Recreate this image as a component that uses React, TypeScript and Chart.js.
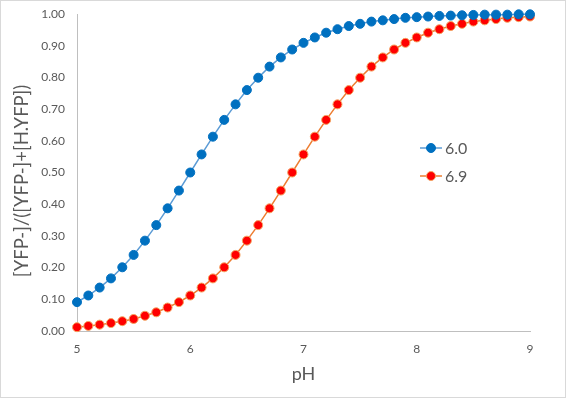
import React, { useEffect, useRef } from "react";
import { Chart, registerables } from "chart.js";

Chart.register(...registerables);

const pH = [5.0, 5.1, 5.2, 5.3, 5.4, 5.5, 5.6, 5.7, 5.8, 5.9, 6.0, 6.1, 6.2, 6.3, 6.4, 6.5, 6.6, 6.7, 6.8, 6.9, 7.0, 7.1, 7.2, 7.3, 7.4, 7.5, 7.6, 7.7, 7.8, 7.9, 8.0, 8.1, 8.2, 8.3, 8.4, 8.5, 8.6, 8.7, 8.8, 8.9, 9.0];

const series60 = [0.091, 0.112, 0.137, 0.166, 0.201, 0.240, 0.285, 0.334, 0.387, 0.443, 0.500, 0.557, 0.613, 0.666, 0.715, 0.760, 0.799, 0.834, 0.863, 0.888, 0.909, 0.926, 0.941, 0.952, 0.962, 0.969, 0.976, 0.980, 0.984, 0.988, 0.990, 0.992, 0.994, 0.995, 0.996, 0.997, 0.998, 0.998, 0.998, 0.999, 0.999];

const series69 = [0.012, 0.016, 0.020, 0.025, 0.031, 0.038, 0.048, 0.059, 0.074, 0.091, 0.112, 0.137, 0.166, 0.201, 0.240, 0.285, 0.334, 0.387, 0.443, 0.500, 0.557, 0.613, 0.666, 0.715, 0.760, 0.799, 0.834, 0.863, 0.888, 0.909, 0.926, 0.941, 0.952, 0.962, 0.969, 0.976, 0.980, 0.984, 0.988, 0.990, 0.992];

const seriesLabels = ["6.0", "6.9"];
const xTitle = "pH";
const yTitle = "[YFP-]/([YFP-]+[H.YFP])";

const FONT = "Lato, 'Open Sans', sans-serif";
const TEXT = "#595959";

const legendPlugin = {
  id: "customLegend",
  afterDraw(chart: any) {
    const ctx = chart.ctx;
    // y-axis title
    ctx.save();
    ctx.translate(22, 181);
    ctx.rotate(-Math.PI / 2);
    ctx.fillStyle = TEXT;
    ctx.font = `18.5px ${FONT}`;
    ctx.textAlign = "center";
    ctx.textBaseline = "middle";
    ctx.fillText(yTitle, 0, 0);
    ctx.restore();

    const x0 = 420;
    const ys = [148, 176];
    chart.data.datasets.forEach((ds: any, i: number) => {
      const y = ys[i];
      ctx.save();
      ctx.strokeStyle = ds.borderColor;
      ctx.lineWidth = 1.5;
      ctx.beginPath();
      ctx.moveTo(x0, y);
      ctx.lineTo(x0 + 22, y);
      ctx.stroke();
      ctx.beginPath();
      ctx.arc(x0 + 11, y, 4.5, 0, Math.PI * 2);
      ctx.fillStyle = ds.pointBackgroundColor;
      ctx.fill();
      ctx.strokeStyle = ds.pointBorderColor;
      ctx.lineWidth = 1;
      ctx.stroke();
      ctx.fillStyle = TEXT;
      ctx.font = `16px ${FONT}`;
      ctx.textBaseline = "middle";
      ctx.textAlign = "left";
      ctx.fillText(ds.label, x0 + 25, y + 1);
      ctx.restore();
    });
  },
};

export default function App() {
  const ref = useRef<HTMLCanvasElement | null>(null);
  useEffect(() => {
    document.body.style.margin = "0";
    const canvas = ref.current;
    if (!canvas) return;
    const chart = new Chart(canvas, {
      type: "line",
      data: {
        datasets: [
          {
            label: seriesLabels[0],
            data: pH.map((x, i) => ({ x, y: series60[i] })),
            borderColor: "#5B9BD5",
            borderWidth: 1.5,
            pointBackgroundColor: "#0070C0",
            pointBorderColor: "#0070C0",
            pointRadius: 4.5,
            pointBorderWidth: 1,
            tension: 0,
            clip: false,
          },
          {
            label: seriesLabels[1],
            data: pH.map((x, i) => ({ x, y: series69[i] })),
            borderColor: "#ED7D31",
            borderWidth: 1.5,
            pointBackgroundColor: "#FF0000",
            pointBorderColor: "#F4A460",
            pointRadius: 4.5,
            pointBorderWidth: 1,
            tension: 0,
            clip: false,
          },
        ],
      },
      options: {
        animation: false,
        responsive: false,
        devicePixelRatio: 1,
        layout: { padding: { top: 14, right: 36, left: 0, bottom: 0 } },
        plugins: { legend: { display: false }, tooltip: { enabled: false } },
        scales: {
          x: {
            type: "linear",
            min: 5,
            max: 9,
            grid: { display: false, drawTicks: false },
            border: { display: true, color: "#BFBFBF", width: 1 },
            ticks: {
              stepSize: 1,
              color: TEXT,
              font: { family: FONT, size: 12 },
              padding: 11,
            },
            title: {
              display: true,
              text: xTitle,
              color: TEXT,
              font: { family: FONT, size: 18 },
              padding: { top: 0, bottom: 13 },
            },
            afterFit(scale: any) {
              scale.height = 67;
              scale.paddingLeft = 0;
              scale.paddingRight = 0;
            },
          },
          y: {
            type: "linear",
            min: 0,
            max: 1,
            grid: { display: false, drawTicks: false },
            border: { display: true, color: "#BFBFBF", width: 1 },
            ticks: {
              stepSize: 0.1,
              color: TEXT,
              font: { family: FONT, size: 12 },
              padding: 12,
              callback: (v: any) => Number(v).toFixed(2),
            },
            title: { display: false },
            afterFit(scale: any) {
              scale.width = 77;
              scale.paddingTop = 0;
              scale.paddingBottom = 0;
            },
          },
        },
      },
      plugins: [legendPlugin],
    });
    return () => chart.destroy();
  }, []);
  return (
    <div style={{ position: "absolute", left: 0, top: 0, width: 566, height: 398, background: "#fff" }}>
      <canvas ref={ref} width={566} height={398} style={{ display: "block", width: 566, height: 398 }} />
      <div
        style={{
          position: "absolute",
          left: 0,
          top: 0,
          width: 566,
          height: 398,
          boxSizing: "border-box",
          border: "1px solid #D9D9D9",
          pointerEvents: "none",
        }}
      />
    </div>
  );
}
